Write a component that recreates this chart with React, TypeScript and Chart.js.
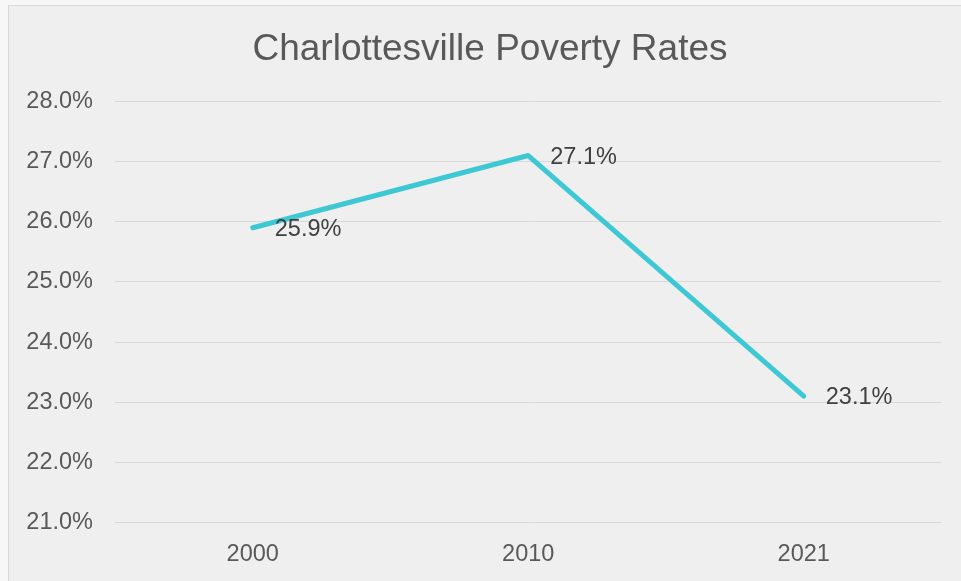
import React, { useEffect, useRef } from "react";
import { Chart, registerables } from "chart.js";

Chart.register(...registerables);

const categories: string[] = ["2000", "2010", "2021"];
const povertyRates: number[] = [25.9, 27.1, 23.1];
const dataLabels: string[] = ["25.9%", "27.1%", "23.1%"];
const yMin = 21;
const yMax = 28;
const yStep = 1;
const titleText = "Charlottesville Poverty Rates";

const FONT = "'Liberation Sans', Arial, sans-serif";

const labelPlugin = {
  id: "pointLabels",
  afterDatasetsDraw(chart: any) {
    const ctx = chart.ctx;
    const meta = chart.getDatasetMeta(0);
    ctx.save();
    ctx.font = `23.5px ${FONT}`;
    ctx.fillStyle = "#404040";
    ctx.textAlign = "left";
    ctx.textBaseline = "middle";
    meta.data.forEach((pt: any, i: number) => {
      ctx.fillText(dataLabels[i], pt.x + 22, pt.y + 1.5);
    });
    ctx.restore();
  },
};

export default function App() {
  const ref = useRef<HTMLCanvasElement | null>(null);

  useEffect(() => {
    if (!ref.current) return;
    const chart = new Chart(ref.current, {
      type: "line",
      data: {
        labels: categories,
        datasets: [
          {
            data: povertyRates,
            yAxisID: "y",
            borderColor: "#3ec8d4",
            borderWidth: 5,
            borderCapStyle: "round",
            borderJoinStyle: "round",
            pointRadius: 0,
            pointHoverRadius: 0,
            fill: false,
            tension: 0,
          },
        ],
      },
      options: {
        responsive: false,
        animation: false,
        devicePixelRatio: 1,
        layout: { padding: { left: 19, right: 0, top: 0, bottom: 0 } },
        plugins: {
          legend: { display: false },
          tooltip: { enabled: false },
          title: {
            display: true,
            text: titleText,
            color: "#595959",
            font: { family: FONT, size: 37, weight: "normal" },
            padding: { top: 28, bottom: 29 },
          },
        },
        scales: {
          x: {
            type: "category",
            offset: true,
            grid: { display: false },
            border: { display: false },
            ticks: {
              color: "#595959",
              font: { family: FONT, size: 23.5 },
              padding: 9.5,
              maxRotation: 0,
            },
            afterFit(scale: any) {
              scale.height = 58.5;
            },
          },
          y: {
            position: "left",
            min: yMin,
            max: yMax,
            grid: { color: "#d9d9d9", lineWidth: 1, drawTicks: false },
            border: { display: false },
            ticks: {
              stepSize: yStep,
              color: "#595959",
              font: { family: FONT, size: 23.5 },
              padding: 22,
              callback: (v: any) => Number(v).toFixed(1) + "%",
            },
            afterFit(scale: any) {
              scale.width = 96;
            },
          },
          spacer: {
            type: "linear",
            position: "right",
            min: 0,
            max: 1,
            grid: { display: false, drawTicks: false },
            border: { display: false },
            ticks: { display: false },
            afterFit(scale: any) {
              scale.width = 19.5;
            },
          },
        },
      },
      plugins: [labelPlugin],
    });
    return () => chart.destroy();
  }, []);

  return (
    <div
      style={{
        position: "fixed",
        left: 0,
        top: 0,
        width: 961,
        height: 581,
        background: "#f7f7f7",
        overflow: "hidden",
      }}
    >
      <div
        style={{
          position: "absolute",
          left: 8,
          top: 5,
          width: 1000,
          height: 700,
          background: "#efefef",
          border: "1px solid #d9d9d9",
        }}
      />
      <canvas
        ref={ref}
        width={961}
        height={581}
        style={{ position: "absolute", left: 0, top: 0, display: "block" }}
      />
    </div>
  );
}
